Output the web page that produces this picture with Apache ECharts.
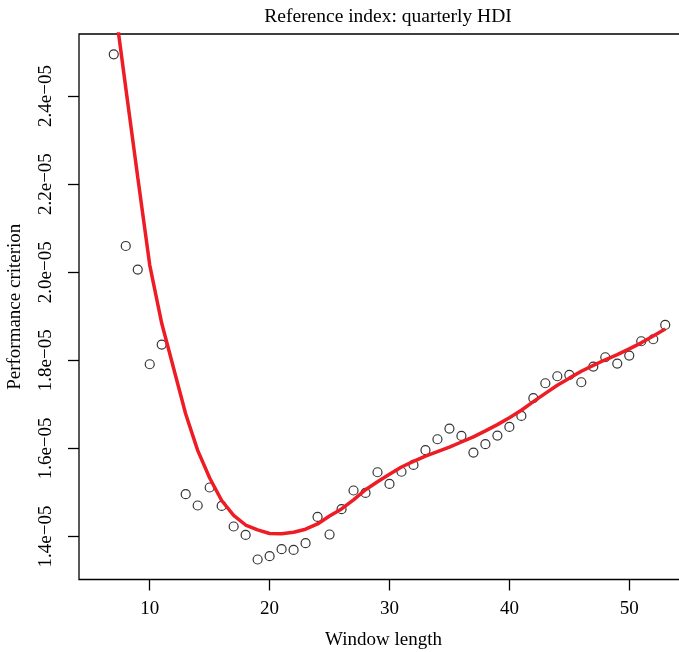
<!DOCTYPE html>
<html>
<head>
<meta charset="utf-8">
<script src="https://cdn.jsdelivr.net/npm/echarts@6/dist/echarts.min.js"></script>
<style>html,body{margin:0;padding:0;background:#fff;overflow:hidden;}#c{width:700px;height:652px;}</style>
</head>
<body>
<div id="c"></div>
<script>
// Observed performance criterion by window length
var windowLen = [7, 8, 9, 10, 11, 13, 14, 15, 16, 17, 18, 19, 20, 21, 22, 23, 24, 25, 26, 27, 28, 29, 30,
  31, 32, 33, 34, 35, 36, 37, 38, 39, 40, 41, 42, 43, 44, 45, 46, 47, 48, 49, 50, 51, 52, 53];
var perf = [2.4945e-5, 2.0595e-5, 2.0059e-5, 1.7910e-5, 1.8357e-5, 1.4960e-5, 1.4704e-5, 1.5112e-5,
  1.4694e-5, 1.4227e-5, 1.4036e-5, 1.3478e-5, 1.3553e-5, 1.3712e-5, 1.3696e-5, 1.3848e-5, 1.4445e-5,
  1.4045e-5, 1.4620e-5, 1.5044e-5, 1.4989e-5, 1.5459e-5, 1.5194e-5, 1.5470e-5, 1.5625e-5, 1.5959e-5,
  1.6208e-5, 1.6451e-5, 1.6283e-5, 1.5906e-5, 1.6095e-5, 1.6292e-5, 1.6487e-5, 1.6737e-5, 1.7139e-5,
  1.7479e-5, 1.7638e-5, 1.7667e-5, 1.7502e-5, 1.7858e-5, 1.8069e-5, 1.7926e-5, 1.8108e-5, 1.8432e-5,
  1.8478e-5, 1.8802e-5];
// Smoothed fit (red curve), evaluated at the same window lengths
var fitted = [2.624e-5, 2.4187e-5, 2.2153e-5, 2.0161e-5, 1.8840e-5, 1.6780e-5, 1.5955e-5, 1.5328e-5,
  1.4817e-5, 1.4479e-5, 1.4261e-5, 1.4152e-5, 1.4068e-5, 1.4062e-5, 1.4096e-5, 1.4166e-5, 1.4285e-5,
  1.4464e-5, 1.4626e-5, 1.4830e-5, 1.5061e-5, 1.5242e-5, 1.5412e-5, 1.5578e-5, 1.5705e-5, 1.5826e-5,
  1.5928e-5, 1.6029e-5, 1.6145e-5, 1.6261e-5, 1.6397e-5, 1.6540e-5, 1.6696e-5, 1.6867e-5, 1.7061e-5,
  1.7250e-5, 1.7432e-5, 1.7595e-5, 1.7752e-5, 1.7886e-5, 1.8012e-5, 1.8127e-5, 1.8258e-5, 1.8396e-5,
  1.8552e-5, 1.8709e-5];
var xTicks = [10, 20, 30, 40, 50];
var yTicks = [1.4e-5, 1.6e-5, 1.8e-5, 2.0e-5, 2.2e-5, 2.4e-5];

var FONT = '"Liberation Serif", "Times New Roman", serif';
var chart = echarts.init(document.getElementById('c'), null, {renderer: 'canvas'});
var pts = windowLen.map(function (x, i) { return [x, perf[i]]; });
var fit = windowLen.map(function (x, i) { return [x, fitted[i]]; });

chart.setOption({
  animation: false,
  backgroundColor: '#ffffff',
  title: {
    text: 'Reference index: quarterly HDI',
    left: 383, top: 2, textAlign: 'center',
    textStyle: {fontFamily: FONT, fontSize: 19.5, fontWeight: 'normal', color: '#000'}
  },
  grid: {
    left: 79, top: 34, right: 12, bottom: 72.5,
    outerBoundsMode: 'none', containLabel: false,
    show: true, borderColor: '#000', borderWidth: 1.3, backgroundColor: 'transparent'
  },
  xAxis: {
    type: 'value', min: 4.1, max: 54.9,
    name: 'Window length', nameLocation: 'middle', nameGap: 51,
    nameTextStyle: {fontFamily: FONT, fontSize: 19, color: '#000'},
    axisLine: {show: false},
    splitLine: {show: false},
    axisTick: {show: true, inside: false, length: 11, customValues: xTicks, lineStyle: {color: '#000', width: 1.3}},
    axisLabel: {customValues: xTicks, margin: 20, fontFamily: FONT, fontSize: 19, color: '#000'}
  },
  yAxis: {
    type: 'value', min: 1.3024e-5, max: 2.5407e-5,
    name: 'Performance criterion', nameLocation: 'middle', nameGap: 54, nameRotate: 90,
    nameTextStyle: {fontFamily: FONT, fontSize: 19, color: '#000'},
    axisLine: {show: false},
    splitLine: {show: false},
    axisTick: {show: true, inside: false, length: 11, customValues: yTicks, lineStyle: {color: '#000', width: 1.3}},
    axisLabel: {
      customValues: yTicks, rotate: 90, margin: 23, fontFamily: FONT, fontSize: 19, color: '#000',
      formatter: function (v) { return (v * 1e5).toFixed(1) + 'e\u221205'; }
    }
  },
  series: [
    {
      type: 'scatter', data: pts, symbol: 'circle', symbolSize: 9,
      itemStyle: {color: 'rgba(255,255,255,0)', borderColor: '#000', borderWidth: 1.2},
      z: 2
    },
    {
      type: 'line', data: fit, showSymbol: false, smooth: false, clip: true,
      lineStyle: {color: '#ee1c24', width: 3.5},
      z: 3
    }
  ]
});
</script>
</body>
</html>
